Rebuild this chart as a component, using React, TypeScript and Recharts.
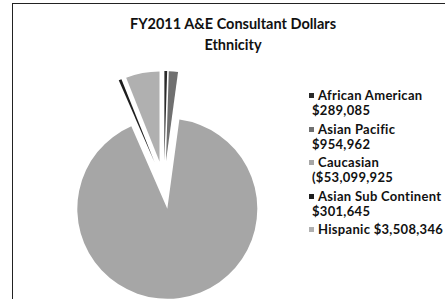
import { PieChart, Pie, Cell, Sector } from "recharts"

const groups = ["African American", "Asian Pacific", "Caucasian", "Asian Sub Continent", "Hispanic"]
const dollars = [289085, 954962, 53099925, 301645, 3508346]
const legendLines = [
  ["African American", "$289,085"],
  ["Asian Pacific", "$954,962"],
  ["Caucasian", "($53,099,925"],
  ["Asian Sub Continent", "$301,645"],
  ["Hispanic $3,508,346"],
]
const shades = ["#2a2a2a", "#707070", "#a6a6a6", "#1e1e1e", "#b0b0b0"]

const data = groups.map((name, i) => ({ name, value: dollars[i] }))

const RAD = Math.PI / 180
const EXPLODE = 24

// Excel style exploded slice: push each sector out along its bisector
function ExplodedSlice(props: any) {
  const { cx, cy, midAngle } = props
  const dx = EXPLODE * Math.cos(-midAngle * RAD)
  const dy = EXPLODE * Math.sin(-midAngle * RAD)
  return <Sector {...props} cx={cx + dx} cy={cy + dy} stroke="none" />
}

function LegendBlock() {
  return (
    <div style={{ fontFamily: "Lato", fontWeight: 700, fontSize: 13, color: "#111", lineHeight: "15px", letterSpacing: 0.3, whiteSpace: "nowrap" }}>
      {legendLines.map((lines, i) => (
        <div key={groups[i]} style={{ marginBottom: 3.5 }}>
          {lines.map((t, j) => (
            <div key={j} style={{ display: "flex", alignItems: "center", marginLeft: j === 0 ? 0 : 3 }}>
              {j === 0 && (
                <span style={{ display: "inline-block", width: 5, height: 5, background: shades[i], marginRight: 4 }} />
              )}
              <span>{t}</span>
            </div>
          ))}
        </div>
      ))}
    </div>
  )
}

export default function App() {
  return (
    <div style={{ position: "fixed", left: 0, top: 0, width: 445, height: 299, background: "#fff", overflow: "hidden" }}>
      <div
        style={{
          position: "absolute",
          left: 12,
          top: 3,
          width: 460,
          height: 320,
          border: "1px solid #222",
        }}
      />
      <div
        style={{
          position: "absolute",
          left: 0,
          width: 466,
          top: 13,
          textAlign: "center",
          fontFamily: "Lato",
          fontWeight: 700,
          fontSize: 14.5,
          lineHeight: "21px",
          color: "#111",
        }}
      >
        <div>FY2011 A&amp;E Consultant Dollars</div>
        <div>Ethnicity</div>
      </div>
      <div style={{ position: "absolute", left: 0, top: 0 }}>
        <PieChart width={445} height={299}>
          <Pie
            data={data}
            dataKey="value"
            nameKey="name"
            cx={159}
            cy={180}
            outerRadius={90}
            startAngle={90}
            endAngle={-270}
            shape={ExplodedSlice}
            isAnimationActive={false}
            labelLine={false}
          >
            {data.map((d, i) => (
              <Cell key={d.name} fill={shades[i]} />
            ))}
          </Pie>
        </PieChart>
      </div>
      <div style={{ position: "absolute", left: 309, top: 88, width: 136 }}>
        <LegendBlock />
      </div>
    </div>
  )
}
